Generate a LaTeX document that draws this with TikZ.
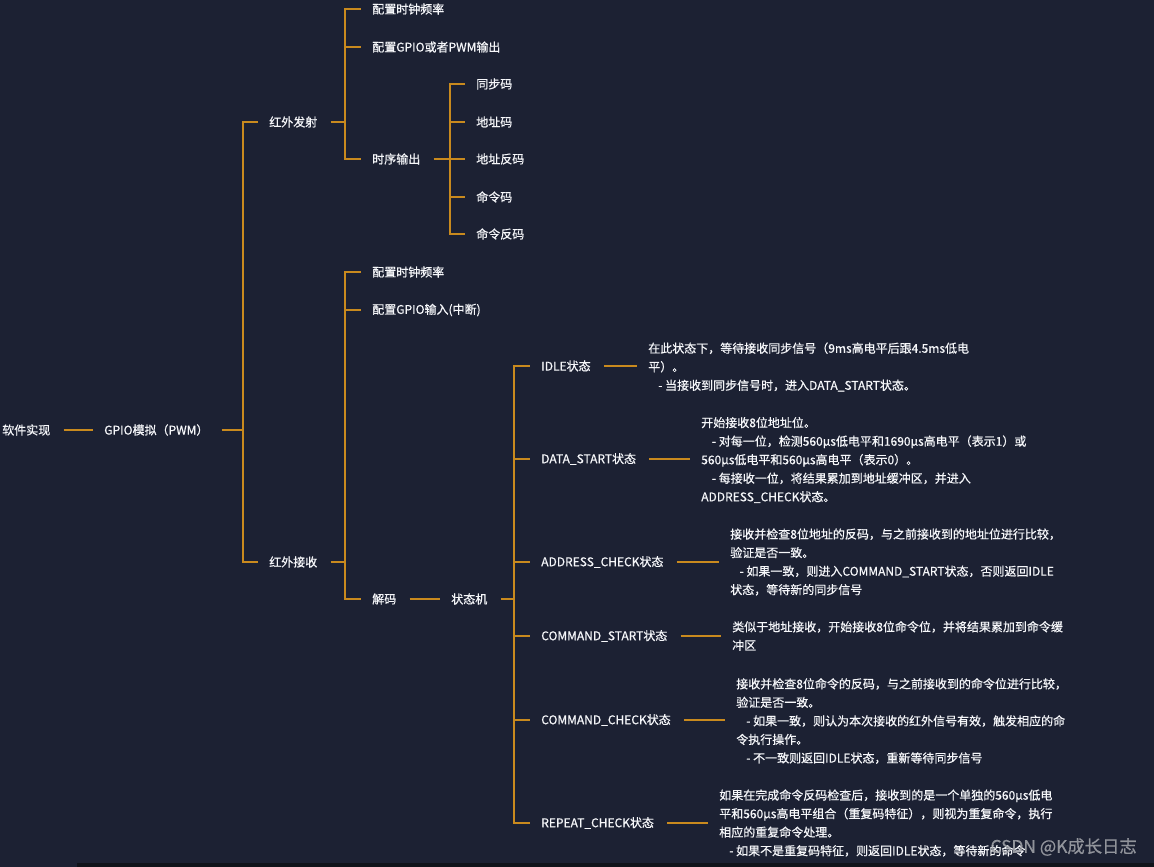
\documentclass[tikz,border=0pt]{standalone}
\usepackage{fontspec}
\setmainfont{Noto Sans CJK SC}[FakeBold=0.6]
\definecolor{bgc}{HTML}{1C2133}
\definecolor{bandc}{HTML}{10131A}
\definecolor{linec}{HTML}{C98A1E}
\definecolor{txtc}{HTML}{F6F7FA}
\definecolor{wmc}{HTML}{A4A6AC}
\begin{document}
\begin{tikzpicture}[x=0.75pt,y=-0.75pt,
  txt/.style={font=\fontsize{9}{13.9}\selectfont, text=txtc, inner sep=0pt, anchor=west},
  desc/.style={txt, align=left},
  link/.style={draw=linec, line width=1.1pt},
  fromnode/.style={shorten <=9.75pt},
  tonode/.style={shorten >=8.25pt}]
\fill[bgc] (0,0) rectangle (1154,867);
\fill[bandc] (77,863) rectangle (1154,867);
\useasboundingbox (0,0) rectangle (1154,867);

% main tree
\node[txt] (root) at (2,430) {软件实现};
\node[txt] (gpio) at (104,430) {GPIO模拟（PWM）};
\node[txt] (tx) at (269,122) {红外发射};
\node[txt] (rx) at (269,562) {红外接收};

\node[txt] (txclk) at (372,9) {配置时钟频率};
\node[txt] (txgpio) at (372,47) {配置GPIO或者PWM输出};
\node[txt] (seq) at (372,159) {时序输出};

\node[txt] (s1) at (476,84) {同步码};
\node[txt] (s2) at (476,122) {地址码};
\node[txt] (s3) at (476,159) {地址反码};
\node[txt] (s4) at (476,197) {命令码};
\node[txt] (s5) at (476,234) {命令反码};

\node[txt] (rxclk) at (372,272) {配置时钟频率};
\node[txt] (rxgpio) at (372,310) {配置GPIO输入(中断)};
\node[txt] (dec) at (372,599) {解码};
\node[txt] (fsm) at (451,599) {状态机};

% states
\node[txt] (idle) at (541,366) {IDLE状态};
\node[txt] (dstart) at (541,459) {DATA\_START状态};
\node[txt] (acheck) at (541,562) {ADDRESS\_CHECK状态};
\node[txt] (cstart) at (541,636) {COMMAND\_START状态};
\node[txt] (ccheck) at (541,720) {COMMAND\_CHECK状态};
\node[txt] (rcheck) at (541,823) {REPEAT\_CHECK状态};

% descriptions
\node[desc] (didle) at (648,367) {在此状态下，等待接收同步信号（9ms高电平后跟4.5ms低电\\平）。\\\hspace*{7.5pt}- 当接收到同步信号时，进入DATA\_START状态。};
\node[desc] (ddstart) at (701,460) {开始接收8位地址位。\\\hspace*{8pt}- 对每一位，检测560μs低电平和1690μs高电平（表示1）或\\560μs低电平和560μs高电平（表示0）。\\\hspace*{8pt}- 每接收一位，将结果累加到地址缓冲区，并进入\\ADDRESS\_CHECK状态。};
\node[desc] (dacheck) at (730,562) {接收并检查8位地址的反码，与之前接收到的地址位进行比较，\\验证是否一致。\\\hspace*{7pt}- 如果一致，则进入COMMAND\_START状态，否则返回IDLE\\状态，等待新的同步信号};
\node[desc] (dcstart) at (732,636) {类似于地址接收，开始接收8位命令位，并将结果累加到命令缓\\冲区};
\node[desc] (dccheck) at (736,721) {接收并检查8位命令的反码，与之前接收到的命令位进行比较，\\验证是否一致。\\\hspace*{7.5pt}- 如果一致，则认为本次接收的红外信号有效，触发相应的命\\令执行操作。\\\hspace*{7.5pt}- 不一致则返回IDLE状态，重新等待同步信号};
\node[desc] (drcheck) at (719,823) {如果在完成命令反码检查后，接收到的是一个单独的560μs低电\\平和560μs高电平组合（重复码特征），则视为重复命令，执行\\相应的重复命令处理。\\\hspace*{7.5pt}- 如果不是重复码特征，则返回IDLE状态，等待新的命令};

% junctions
\coordinate (jg) at (243,430);
\coordinate (jt) at (345,122);
\coordinate (jr) at (345,562);
\coordinate (js) at (450,159);
\coordinate (jf) at (514,599);

% connectors
\draw[link,fromnode,tonode] (root.east) -- (gpio.west);
\draw[link,fromnode] (gpio.east) -- (jg);
\draw[link,tonode] (jg) |- (tx.west);
\draw[link,tonode] (jg) |- (rx.west);

\draw[link,fromnode] (tx.east) -- (jt);
\draw[link,tonode] (jt) |- (txclk.west);
\draw[link,tonode] (jt) |- (txgpio.west);
\draw[link,tonode] (jt) |- (seq.west);

\draw[link,fromnode] (seq.east) -- (js);
\draw[link,tonode] (js) |- (s1.west);
\draw[link,tonode] (js) |- (s2.west);
\draw[link,tonode] (js) |- (s3.west);
\draw[link,tonode] (js) |- (s4.west);
\draw[link,tonode] (js) |- (s5.west);

\draw[link,fromnode] (rx.east) -- (jr);
\draw[link,tonode] (jr) |- (rxclk.west);
\draw[link,tonode] (jr) |- (rxgpio.west);
\draw[link,tonode] (jr) |- (dec.west);

\draw[link,fromnode,tonode] (dec.east) -- (fsm.west);
\draw[link,fromnode] (fsm.east) -- (jf);
\foreach \s in {idle,dstart,acheck,cstart,ccheck,rcheck}{
  \draw[link,tonode] (jf) |- (\s.west);
}

\draw[link,fromnode,tonode] (idle.east) -- (idle.east -| didle.west);
\draw[link,fromnode,tonode] (dstart.east) -- (dstart.east -| ddstart.west);
\draw[link,fromnode,tonode] (acheck.east) -- (acheck.east -| dacheck.west);
\draw[link,fromnode,tonode] (cstart.east) -- (cstart.east -| dcstart.west);
\draw[link,fromnode,tonode] (ccheck.east) -- (ccheck.east -| dccheck.west);
\draw[link,fromnode,tonode] (rcheck.east) -- (rcheck.east -| drcheck.west);

% watermark
\node[font=\fontsize{13}{15}\selectfont, text=wmc, text opacity=0.85, anchor=east, inner sep=0pt] (wm) at (1137,847) {CSDN @K成长日志};
\end{tikzpicture}
\end{document}
